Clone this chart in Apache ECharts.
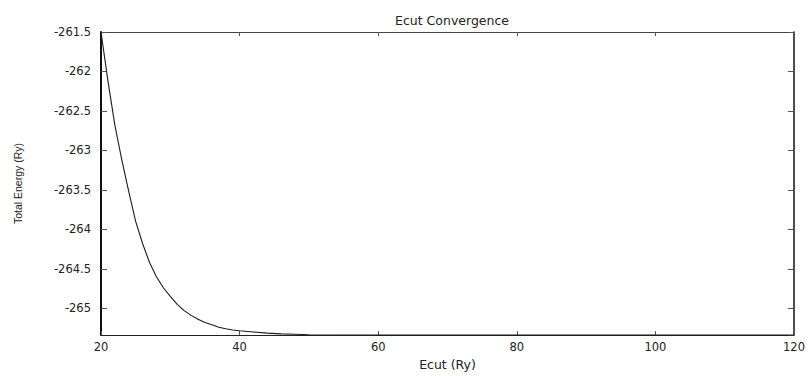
<!DOCTYPE html>
<html>
<head>
<meta charset="utf-8">
<script src="https://cdn.jsdelivr.net/npm/echarts@6/dist/echarts.min.js"></script>
<style>
  html, body { margin: 0; padding: 0; background: #fff; }
  #chart { width: 810px; height: 376px; }
</style>
</head>
<body>
<div id="chart"></div>
<script>
// Plane-wave cutoff (Ry) and the total energy it gives (Ry)
const ecut = [20, 21, 22, 23, 24, 25, 26, 27, 28, 29, 30, 31, 32, 33, 34, 35, 36, 37, 38, 39, 40,
              42, 44, 46, 48, 50, 55, 60, 70, 80, 90, 100, 110, 120];
const totalEnergy = [-261.50, -262.12, -262.68, -263.12, -263.52, -263.90, -264.18, -264.42, -264.60, -264.74,
                     -264.85, -264.95, -265.03, -265.09, -265.14, -265.18, -265.21, -265.24, -265.26, -265.275,
                     -265.285, -265.30, -265.315, -265.325, -265.33, -265.335, -265.338, -265.34, -265.34, -265.34,
                     -265.34, -265.34, -265.34, -265.34];

const xTicks = { min: 20, max: 120, interval: 20 };
const yRange = { min: -265.34, max: -261.5 };

const chartTitle = 'Ecut Convergence';
const xName = 'Ecut (Ry)';
const yName = 'Total Energy (Ry)';

const points = ecut.map((x, i) => [x, totalEnergy[i]]);

const chart = echarts.init(document.getElementById('chart'), null, { renderer: 'svg' });

const labelFont = { fontFamily: 'DejaVu Sans', fontSize: 11.5, color: '#222' };

chart.setOption({
  animation: false,
  backgroundColor: '#fff',
  title: {
    text: chartTitle,
    left: 447,
    top: 9,
    textAlign: 'center',
    textStyle: { fontFamily: 'DejaVu Sans', fontSize: 12.5, fontWeight: 'normal', color: '#222' }
  },
  grid: { left: 101, right: 16, top: 32, bottom: 37, containLabel: false },
  xAxis: [
    {
      type: 'value', position: 'bottom',
      min: xTicks.min, max: xTicks.max, interval: xTicks.interval,
      name: xName, nameLocation: 'middle', nameGap: 20,
      nameTextStyle: { fontFamily: 'DejaVu Sans', fontSize: 12.5, color: '#222' },
      axisLine: { lineStyle: { color: '#222', width: 1.2 } },
      axisTick: { inside: true, length: 4, lineStyle: { color: '#555' } },
      axisLabel: Object.assign({ margin: 6 }, labelFont),
      splitLine: { show: false }
    },
    {
      type: 'value', position: 'top',
      min: xTicks.min, max: xTicks.max, interval: xTicks.interval,
      axisLine: { lineStyle: { color: '#444', width: 1 } },
      axisTick: { inside: true, length: 4, lineStyle: { color: '#555' } },
      axisLabel: { show: false },
      splitLine: { show: false }
    }
  ],
  yAxis: [
    {
      type: 'value', position: 'left',
      min: yRange.min, max: yRange.max, splitNumber: 8,
      name: yName, nameLocation: 'middle', nameGap: 78, nameRotate: 90,
      nameTextStyle: { fontFamily: 'Liberation Sans', fontSize: 10.5, color: '#222' },
      axisLine: { lineStyle: { color: '#111', width: 2 } },
      axisTick: { inside: true, length: 6, lineStyle: { color: '#555' } },
      axisLabel: Object.assign({ margin: 10, showMinLabel: false }, labelFont),
      splitLine: { show: false }
    },
    {
      type: 'value', position: 'right',
      min: yRange.min, max: yRange.max, splitNumber: 8,
      axisLine: { lineStyle: { color: '#111', width: 1.5 } },
      axisTick: { inside: true, length: 6, lineStyle: { color: '#555' } },
      axisLabel: { show: false },
      splitLine: { show: false }
    }
  ],
  series: [{
    type: 'line',
    xAxisIndex: 0, yAxisIndex: 0,
    data: points,
    showSymbol: false,
    symbol: 'none',
    lineStyle: { color: '#1a1a1a', width: 1.1 }
  }]
});
</script>
</body>
</html>
